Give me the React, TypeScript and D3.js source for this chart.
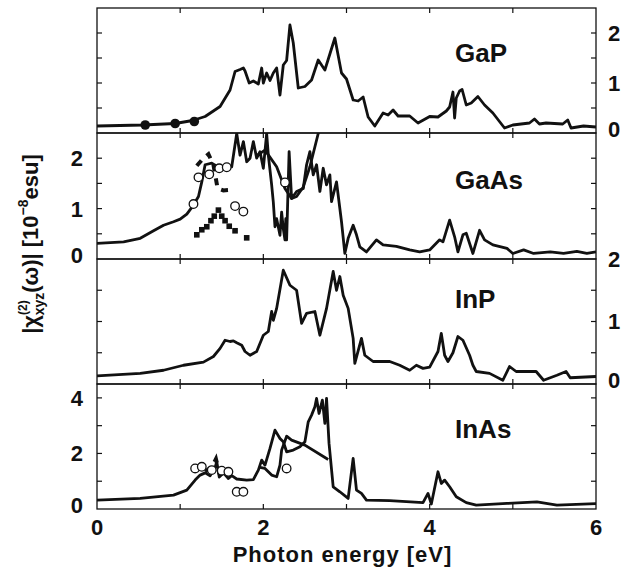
import React from "react";
import * as d3 from "d3";

// ---------- data (photon energy [eV], |chi| [1e-8 esu]) ----------
const GAP_CALC: [number, number][] = [[0,0.14],[0.55,0.16],[0.94,0.19],[1.15,0.25],[1.3,0.33],[1.48,0.53],[1.6,0.86],[1.66,1.23],[1.72,1.27],[1.76,1.3],[1.78,1.24],[1.83,1.0],[1.88,1.04],[1.94,0.98],[1.98,1.3],[2.0,1.0],[2.04,1.2],[2.08,1.05],[2.12,1.2],[2.16,1.3],[2.2,0.76],[2.24,1.36],[2.28,1.45],[2.32,2.16],[2.36,1.8],[2.42,0.9],[2.5,0.93],[2.58,1.06],[2.66,1.46],[2.74,1.26],[2.86,1.9],[2.94,1.2],[3.0,1.08],[3.08,0.66],[3.14,0.64],[3.2,0.72],[3.26,0.32],[3.34,0.14],[3.44,0.4],[3.5,0.36],[3.56,0.46],[3.62,0.34],[3.76,0.34],[3.86,0.2],[4.0,0.33],[4.1,0.32],[4.2,0.44],[4.24,0.52],[4.28,0.82],[4.3,0.3],[4.32,0.7],[4.36,0.84],[4.39,0.87],[4.44,0.56],[4.5,0.6],[4.58,0.73],[4.66,0.56],[4.76,0.4],[4.9,0.1],[5.0,0.16],[5.2,0.2],[5.26,0.28],[5.32,0.18],[5.4,0.2],[5.6,0.18],[5.66,0.26],[5.7,0.1],[5.85,0.14],[6.0,0.12]];
const GAP_EXP_FILLED: [number, number][] = [[0.58,0.16],[0.94,0.19],[1.17,0.23]];

const GAAS_CALC: [number, number][] = [[0,0.31],[0.32,0.34],[0.52,0.41],[0.68,0.56],[0.8,0.67],[0.92,0.74],[1.0,0.79],[1.08,0.89],[1.16,1.07],[1.22,1.24],[1.26,1.53],[1.3,1.87],[1.38,1.9],[1.48,1.8],[1.56,1.83],[1.62,1.83],[1.68,2.49],[1.72,2.06],[1.76,2.33],[1.8,1.93],[1.84,2.0],[1.88,2.33],[1.92,2.0],[1.96,2.13],[2.0,1.8],[2.04,2.49],[2.06,2.06],[2.1,1.47],[2.12,1.13],[2.14,0.64],[2.16,0.8],[2.2,0.47],[2.22,0.93],[2.24,0.6],[2.26,0.38],[2.27,0.8],[2.28,0.38],[2.31,2.13],[2.34,1.2],[2.4,1.34],[2.48,1.4],[2.52,1.87],[2.56,2.13],[2.6,1.67],[2.64,1.87],[2.68,1.34],[2.72,1.8],[2.76,1.47],[2.8,1.67],[2.82,1.14],[2.88,1.53],[2.94,0.74],[2.98,0.11],[3.02,0.41],[3.08,0.67],[3.12,0.48],[3.16,0.24],[3.24,0.14],[3.36,0.38],[3.44,0.28],[3.6,0.25],[3.76,0.18],[3.88,0.14],[4.0,0.18],[4.12,0.38],[4.16,0.34],[4.24,0.77],[4.3,0.44],[4.34,0.14],[4.4,0.48],[4.44,0.51],[4.52,0.11],[4.6,0.57],[4.66,0.38],[4.76,0.28],[4.93,0.21],[5.0,0.11],[5.13,0.18],[5.25,0.11],[5.45,0.14],[5.61,0.11],[5.77,0.15],[5.89,0.11],[6.0,0.14]];
const GAAS_CALC2: [number, number][] = [[1.92,2.05],[2.02,2.16],[2.16,1.83],[2.26,1.4],[2.34,1.2],[2.4,1.24],[2.48,1.43],[2.56,1.83],[2.66,2.49],[2.7,2.7]];
const GAAS_EXP_DASHED: [number, number][] = [[1.2,1.85],[1.28,2.0],[1.34,2.08],[1.4,1.87],[1.45,1.4],[1.52,1.36],[1.6,1.37]];
const GAAS_EXP_OPEN: [number, number][] = [[1.16,1.09],[1.22,1.62],[1.35,1.68],[1.47,1.8],[1.56,1.82],[1.66,1.05],[1.76,0.94],[2.26,1.52]];
const GAAS_EXP_SQUARES: [number, number][] = [[1.2,0.48],[1.26,0.58],[1.32,0.64],[1.37,0.76],[1.41,0.85],[1.46,0.97],[1.5,0.85],[1.54,0.76],[1.59,0.65],[1.66,0.56],[1.8,0.42]];

const INP_CALC: [number, number][] = [[0,0.13],[0.52,0.17],[0.8,0.22],[1.04,0.3],[1.28,0.35],[1.4,0.44],[1.48,0.57],[1.54,0.7],[1.6,0.68],[1.64,0.69],[1.68,0.66],[1.74,0.62],[1.78,0.52],[1.84,0.46],[1.92,0.52],[2.0,0.78],[2.06,0.84],[2.1,1.16],[2.12,1.02],[2.16,1.21],[2.24,1.82],[2.32,1.58],[2.4,1.5],[2.46,0.97],[2.52,1.13],[2.62,1.16],[2.68,0.78],[2.76,1.21],[2.84,1.8],[2.88,1.5],[2.92,1.72],[2.96,1.42],[3.02,1.21],[3.08,0.73],[3.1,0.33],[3.18,0.73],[3.22,0.46],[3.32,0.36],[3.52,0.36],[3.64,0.3],[3.76,0.22],[3.84,0.3],[3.92,0.25],[4.0,0.27],[4.1,0.52],[4.14,0.81],[4.18,0.46],[4.22,0.36],[4.28,0.5],[4.34,0.76],[4.4,0.7],[4.48,0.46],[4.52,0.3],[4.56,0.2],[4.72,0.17],[4.88,0.06],[4.96,0.28],[5.04,0.2],[5.28,0.2],[5.37,0.06],[5.53,0.14],[5.64,0.2],[5.69,0.1],[6.0,0.12]];

const INAS_CALC: [number, number][] = [[0,0.32],[0.52,0.38],[0.92,0.5],[1.08,0.68],[1.18,1.04],[1.24,1.22],[1.3,1.3],[1.36,1.2],[1.42,1.5],[1.44,1.7],[1.47,1.15],[1.52,1.3],[1.58,1.1],[1.62,1.2],[1.68,1.08],[1.8,1.04],[1.88,1.06],[1.94,1.4],[1.98,1.76],[2.02,1.58],[2.08,2.18],[2.14,2.84],[2.2,2.54],[2.24,2.42],[2.28,2.06],[2.36,2.12],[2.44,2.24],[2.5,2.42],[2.54,3.14],[2.58,3.38],[2.62,3.68],[2.64,3.98],[2.67,3.44],[2.71,3.92],[2.74,3.08],[2.76,3.98],[2.79,2.36],[2.84,0.8],[2.92,0.62],[3.02,0.38],[3.08,1.82],[3.12,0.68],[3.18,0.56],[3.24,0.32],[3.52,0.3],[3.92,0.23],[3.98,0.56],[4.02,0.18],[4.1,1.34],[4.14,0.92],[4.18,1.04],[4.24,0.8],[4.32,0.44],[4.44,0.23],[4.56,0.14],[4.93,0.2],[5.29,0.26],[5.53,0.14],[6.0,0.19]];
const INAS_CALC2: [number, number][] = [[1.96,1.5],[2.02,1.46],[2.1,1.22],[2.16,1.16],[2.2,1.58],[2.22,2.12],[2.28,2.62],[2.34,2.48],[2.5,2.3],[2.78,1.78]];
const INAS_EXP_DASHED: [number, number][] = [[1.3,1.35],[1.38,1.5],[1.43,1.8],[1.47,1.3],[1.53,1.25],[1.6,1.15]];
const INAS_EXP_OPEN: [number, number][] = [[1.18,1.46],[1.26,1.52],[1.38,1.4],[1.5,1.38],[1.58,1.34],[1.68,0.62],[1.76,0.62],[2.28,1.46]];

const X_TICK_LABELS = [0, 2, 4, 6];
const PANEL_NAMES = ["GaP", "GaAs", "InP", "InAs"];
const PANEL_MAX = [2.5, 2.5, 2, 4.5];
const PANEL_TICK_STEP = [0.5, 0.5, 0.5, 1];
const PANEL_LABELS = [[0, 1, 2], [0, 1, 2], [0, 1, 2], [0, 2, 4]];
const PANEL_LABEL_SIDE = ["right", "left", "right", "left"];

// ---------- layout ----------
const W = 636, H = 578;
const X0 = 97, X1 = 596;
const PANEL_EDGES = [8, 133, 259, 384, 509];
const FONT = "'Liberation Sans', Arial, Helvetica, sans-serif";

const x = d3.scaleLinear().domain([0, 6]).range([X0, X1]);

function Panel({ i }: { i: number }) {
  const top = PANEL_EDGES[i], bottom = PANEL_EDGES[i + 1];
  const y = d3.scaleLinear().domain([0, PANEL_MAX[i]]).range([bottom, top]);
  const line = d3.line<[number, number]>().x(d => x(d[0])).y(d => y(d[1]));
  const clipId = `clip${i}`;
  const yTicks = d3.range(PANEL_TICK_STEP[i], PANEL_MAX[i] - 1e-6, PANEL_TICK_STEP[i]);
  const xTicks = d3.range(1, 6);
  const side = PANEL_LABEL_SIDE[i];
  const main = [GAP_CALC, GAAS_CALC, INP_CALC, INAS_CALC][i];
  const second = [null, GAAS_CALC2, null, INAS_CALC2][i];
  const dashed = [null, GAAS_EXP_DASHED, null, INAS_EXP_DASHED][i];
  const open = [null, GAAS_EXP_OPEN, null, INAS_EXP_OPEN][i];
  const labelY = [62, 189, 308, 438][i];
  return (
    <g>
      <defs>
        <clipPath id={clipId}>
          <rect x={X0} y={top} width={X1 - X0} height={bottom - top} />
        </clipPath>
      </defs>
      <rect x={X0} y={top} width={X1 - X0} height={bottom - top} fill="none" stroke="#111" strokeWidth={1.3} />
      {xTicks.map(t => (
        <g key={"xt" + t} stroke="#111" strokeWidth={1.2}>
          <line x1={x(t)} x2={x(t)} y1={top} y2={top + 5} />
          <line x1={x(t)} x2={x(t)} y1={bottom} y2={bottom - 5} />
        </g>
      ))}
      {yTicks.map(t => (
        <g key={"yt" + t} stroke="#111" strokeWidth={1.2}>
          <line x1={X0} x2={X0 + 5} y1={y(t)} y2={y(t)} />
          <line x1={X1} x2={X1 - 5} y1={y(t)} y2={y(t)} />
        </g>
      ))}
      {PANEL_LABELS[i].map(v => (
        <text key={"yl" + v}
          x={side === "left" ? 83 : 614}
          y={y(v) - (v === 0 ? 4 : 0)}
          dy="0.36em"
          textAnchor={side === "left" ? "end" : "middle"}
          fontFamily={FONT} fontWeight="bold" fontSize={22} fill="#111">{v}</text>
      ))}
      <g clipPath={`url(#${clipId})`}>
        {dashed && (
          <path d={line(dashed) || ""} fill="none" stroke="#111" strokeWidth={4} strokeDasharray="7,7" />
        )}
        {i === 1 && GAAS_EXP_SQUARES.map((d, k) => (
          <rect key={"sq" + k} x={x(d[0]) - 2.8} y={y(d[1]) - 2.8} width={5.6} height={5.6} fill="#111" />
        ))}
        <path d={line(main) || ""} fill="none" stroke="#111" strokeWidth={2.8} strokeLinejoin="round" />
        {second && (
          <path d={line(second) || ""} fill="none" stroke="#111" strokeWidth={2.8} strokeLinejoin="round" />
        )}
        {open && open.map((d, k) => (
          <circle key={"oc" + k} cx={x(d[0])} cy={y(d[1])} r={4.3} fill="#fff" stroke="#111" strokeWidth={1.3} />
        ))}
        {i === 0 && GAP_EXP_FILLED.map((d, k) => (
          <circle key={"fc" + k} cx={x(d[0])} cy={y(d[1])} r={4.8} fill="#111" />
        ))}
      </g>
      <text x={455} y={labelY} fontFamily={FONT} fontWeight="bold" fontSize={26} fill="#111">{PANEL_NAMES[i]}</text>
    </g>
  );
}

export default function App() {
  return (
    <svg width={W} height={H} style={{ display: "block", position: "absolute", left: 0, top: 0, background: "#fff" }}>
      <rect width={W} height={H} fill="#fff" />
      {PANEL_NAMES.map((_, i) => <Panel key={i} i={i} />)}
      {X_TICK_LABELS.map(t => (
        <text key={"xl" + t} x={x(t)} y={535} textAnchor="middle"
          fontFamily={FONT} fontWeight="bold" fontSize={22} fill="#111">{t}</text>
      ))}
      <text x={(X0 + X1) / 2 - 4} y={562} textAnchor="middle" fontFamily={FONT} fontWeight="bold" fontSize={22}
        letterSpacing={1} fill="#111">
        Photon energy [eV]
      </text>
      <g transform="translate(38,244) rotate(-90)">
        <text x={0} y={0} textAnchor="middle" fontFamily={FONT} fontWeight="bold" fontSize={22} fill="#111">
          <tspan>|χ</tspan>
          <tspan fontSize={12} dy={-11}>(2)</tspan>
          <tspan fontSize={14} dx={-15} dy={17}>xyz</tspan>
          <tspan dy={-6}>(ω)| [10</tspan>
          <tspan fontSize={14} dy={-10}>−8</tspan>
          <tspan dy={10}>esu]</tspan>
        </text>
      </g>
    </svg>
  );
}
